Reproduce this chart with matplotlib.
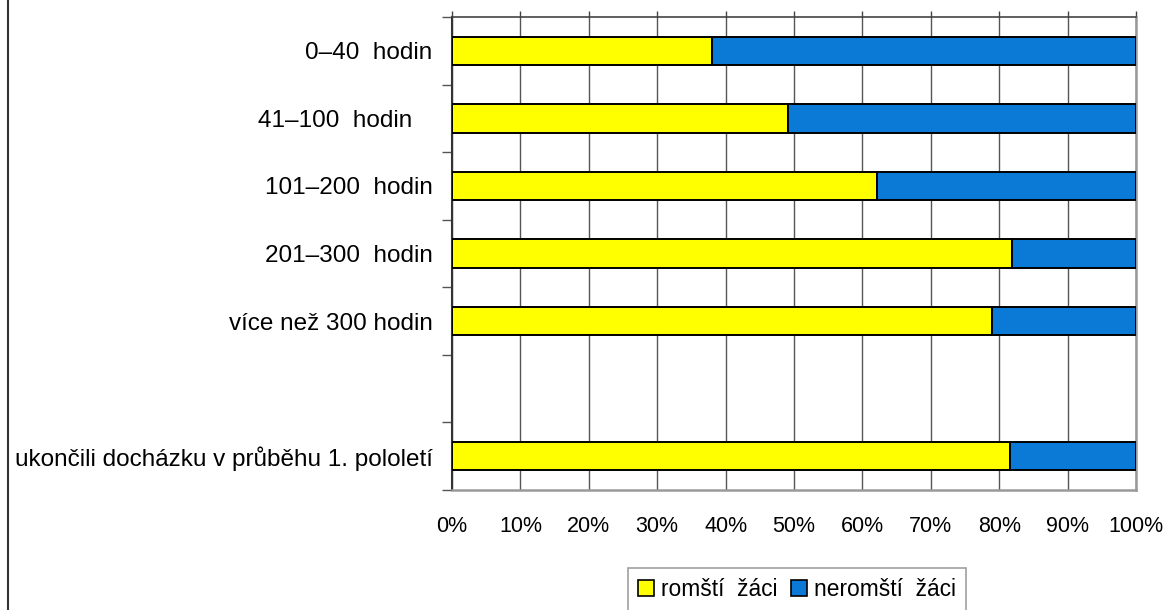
import numpy as np
import matplotlib.pyplot as plt
from matplotlib.patches import Patch
from matplotlib.lines import Line2D

plt.rcParams['font.family'] = ['Liberation Sans', 'DejaVu Sans']
plt.rcParams['font.size'] = 15

categories = ['0–40  hodin', '41–100  hodin   ', '101–200  hodin', '201–300  hodin',
              'více než 300 hodin', '', 'ukončili docházku v průběhu 1. pololetí']
romsti = [0.380, 0.491, 0.622, 0.819, 0.789, np.nan, 0.816]
neromsti = [1 - v for v in romsti]
series_names = ['romští  žáci', 'neromští  žáci']
colors = ['#FFFF00', '#0A7AD6']

fig = plt.figure(figsize=(11.68, 6.10), dpi=100)
ax = fig.add_axes([452 / 1168, 1 - 490 / 610, 684 / 1168, 473 / 610])

y = np.arange(len(categories))
ax.barh(y, romsti, height=0.42, color=colors[0], edgecolor='black', linewidth=1.4, zorder=3)
ax.barh(y, neromsti, left=romsti, height=0.42, color=colors[1], edgecolor='black',
        linewidth=1.4, zorder=3)

ax.set_xlim(0, 1)
ax.set_ylim(len(categories) - 0.5, -0.5)

# x axis: percent labels below, short ticks above the plot area
ax.set_xticks(np.linspace(0, 1, 11))
ax.set_xticklabels([f'{i}%' for i in range(0, 101, 10)])
ax.tick_params(axis='x', which='major', bottom=False, top=True, length=4,
               width=1, color='#444444', pad=15, labelsize=15.5)
ax.grid(axis='x', color='#555555', linewidth=1, zorder=1)

# y axis: tick marks between categories, labels centred on bars
ax.set_yticks(np.arange(-0.5, len(categories), 1))
ax.set_yticklabels([])
ax.set_yticks(y, minor=True)
ax.set_yticklabels(categories, minor=True)
ax.tick_params(axis='y', which='major', length=7.2, width=1, color='#555555')
ax.tick_params(axis='y', which='minor', length=0, pad=14, labelsize=17.5)

ax.spines['left'].set_color('#333333')
ax.spines['left'].set_linewidth(1.5)
ax.spines['top'].set_color('#444444')
ax.spines['top'].set_linewidth(1.2)
for side in ['right', 'bottom']:
    ax.spines[side].set_color('#999999')
    ax.spines[side].set_linewidth(1.8)

handles = [Patch(facecolor=c, edgecolor='black', linewidth=1.2) for c in colors]
leg = fig.legend(handles, series_names, loc='upper center',
                 bbox_to_anchor=(797 / 1168, 1 - 568 / 610), ncol=2,
                 frameon=True, fancybox=False, edgecolor='#888888',
                 handlelength=0.7, handleheight=0.7, handletextpad=0.3,
                 columnspacing=0.6, borderpad=0.45, fontsize=16.4,
                 borderaxespad=0)
leg.get_frame().set_linewidth(1.2)

# outer chart border on the left
fig.add_artist(Line2D([8 / 1168, 8 / 1168], [0, 1], color='#333333', linewidth=1.5))

fig.savefig('out.png', dpi=100)
